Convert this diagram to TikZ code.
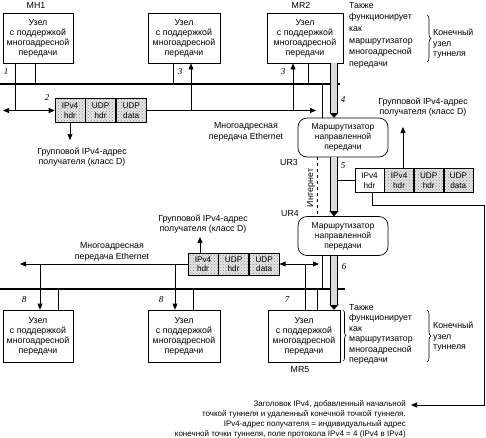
\documentclass[tikz,border=0pt]{standalone}
\usepackage{fontspec}
\setmainfont{Liberation Sans}
\newfontfamily\numfont{Liberation Serif}
\usetikzlibrary{arrows.meta,patterns,positioning,decorations.pathreplacing}

\tikzset{
	host/.style={draw, line width=0.7pt, minimum width=70pt, minimum height=50pt, inner sep=1pt, align=center, font=\fontsize{8.8}{10}\selectfont},
	router/.style={draw, line width=0.7pt, rounded corners=9pt, minimum width=90pt, minimum height=39pt, inner sep=1pt, align=center, font=\fontsize{8.5}{10}\selectfont},
	cell/.style={draw, line width=0.6pt, minimum width=30pt, minimum height=24pt, inner sep=0pt, align=center, font=\fontsize{8.2}{9.5}\selectfont},
	dotcell/.style={cell, preaction={fill=gray!20}, pattern=crosshatch dots, pattern color=gray!90},
	lbl/.style={inner sep=0pt, align=center, font=\fontsize{8.8}{10.5}\selectfont},
	num/.style={inner sep=0pt, font=\numfont\itshape\fontsize{9}{9}\selectfont},
	wire/.style={line width=0.7pt},
	bus/.style={line width=1.8pt},
	tip/.style={wire, -{Triangle[width=5pt,length=6pt]}},
	pipe/.style={line width=8pt, -{Triangle[width=9pt,length=5pt,line width=0.1pt]}, postaction={draw, -, line width=5.6pt, gray!30, shorten >=5pt}},
	curly/.style={decorate, decoration={brace, amplitude=4pt}, line width=0.6pt},
}

\begin{document}
\begin{tikzpicture}[x=1pt, y=-1pt]
	\useasboundingbox (0,0) rectangle (486,437);
	% upper Ethernet segment
	\node (mh1) [host] at (38,38) {Узел\\с поддержкой\\многоадресной\\передачи};
	\node (mh2) [host, minimum width=72pt] at (184,38) {Узел\\с поддержкой\\многоадресной\\передачи};
	\node (mr2) [host, minimum width=76pt] at (305,38) {Узел\\с поддержкой\\многоадресной\\передачи};
	\node (mh1name) [lbl] at (36,5) {MH1};
	\node (mr2name) [lbl] at (301,5) {MR2};
	\node (mr2note) [lbl, align=left, anchor=north west, font=\fontsize{8.8}{11.6}\selectfont] at (349,2) {Также\\функционирует\\как\\маршрутизатор\\многоадресной\\передачи};
	\draw [curly] (427,15) -- (427,62);
	\node (end1) [lbl, align=left, anchor=west] at (433,44) {Конечный\\узел\\туннеля};

	\coordinate (bus1w) at (0,84);
	\coordinate (bus1e) at (340,84);
	\draw [bus] (bus1w) -- (bus1e);
	\draw [wire] ([xshift=-3pt]mh1.south) -- ([xshift=-3pt]mh1.south |- bus1w);
	\draw [wire] ([xshift=-11pt]mh2.south) -- ([xshift=-11pt]mh2.south |- bus1w);
	\draw [wire] ([xshift=3pt]mr2.south) -- ([xshift=3pt]mr2.south |- bus1w);

	\node (pk1a) [dotcell] at (70,110.5) {IPv4\\hdr};
	\node (pk1b) [dotcell, right=0pt of pk1a] {UDP\\hdr};
	\node (pk1c) [dotcell, right=0pt of pk1b] {UDP\\data};
	\coordinate (j1) at (15,110.5);
	\coordinate (w1) at (3,110.5);
	\coordinate (e1) at (316,110.5);
	\draw [wire] (j1 |- mh1.south) -- (j1);
	\draw [tip] (j1) -- (w1);
	\draw [tip] (j1) -- (pk1a.west);
	\draw [tip] (pk1c.east) -- (e1);
	\draw [tip] ([xshift=7pt]mh2.south |- e1) -- ([xshift=7pt]mh2.south);
	\draw [tip] ([xshift=-12pt]mr2.south |- e1) -- ([xshift=-12pt]mr2.south);
	\coordinate (d1) at (70,140);
	\draw [tip] (pk1a.south) -- (d1);
	\node (grp1) [lbl] at (82,157) {Групповой IPv4-адрес\\получателя (класс D)};
	\node (eth1) [lbl] at (246,132) {Многоадресная\\передача Ethernet};
	\node (n1) [num] at (6,72) {1};
	\node (n2) [num] at (47,98) {2};
	\node (n3a) [num] at (180,72) {3};
	\node (n3b) [num] at (283,72) {3};
	\node (n4) [num] at (343,100) {4};

	% tunnel through the Internet
	\node (ur3) [router] at (343,137.5) {Маршрутизатор\\направленной\\передачи};
	\node (ur4) [router] at (343,236) {Маршрутизатор\\направленной\\передачи};
	\node (ur3name) [lbl] at (289,162) {UR3};
	\node (ur4name) [lbl] at (290,214) {UR4};
	\draw [wire] ([xshift=-21pt]ur3.north |- bus1w) -- ([xshift=-21pt]ur3.north);
	\draw [pipe] ([xshift=29pt]mr2.south) -- ([xshift=29pt]mr2.south |- ur3.north);
	\draw [pipe] ([xshift=-9pt]ur3.south) -- ([xshift=-9pt]ur4.north);
	\draw [wire, dashed] ([xshift=-26pt]ur3.south) -- ([xshift=-26pt]ur4.north);
	\node (inet) [lbl, rotate=90] at (311,188) {Интернет};
	\node (n5) [num] at (343,166) {5};

	\node (pk3a) [cell, minimum width=29pt] at (369.5,180.5) {IPv4\\hdr};
	\node (pk3b) [dotcell, minimum width=29pt, right=0pt of pk3a] {IPv4\\hdr};
	\node (pk3c) [dotcell, minimum width=29pt, right=0pt of pk3b] {UDP\\hdr};
	\node (pk3d) [dotcell, minimum width=29pt, right=0pt of pk3c] {UDP\\data};
	\draw [wire] ([xshift=-5pt]ur3.south |- pk3a.west) -- (pk3a.west);
	\coordinate (u3) at (403,127);
	\draw [tip] (pk3b.north -| u3) -- (u3);
	\node (grp3) [lbl] at (423,107) {Групповой IPv4-адрес\\получателя (класс D)};
	\coordinate (k1) at (372,205);
	\coordinate (k2) at (484,205);
	\coordinate (k3) at (484,405);
	\coordinate (k4) at (411,405);
	\draw [tip] (pk3a.south -| k1) -- (k1) -- (k2) -- (k3) -- (k4);
	\node (hdrnote) [lbl, align=right, anchor=east, font=\fontsize{8}{10}\selectfont] at (406,419) {Заголовок IPv4, добавленный начальной\\точкой туннеля и удаленный конечной точкой туннеля.\\IPv4-адрес получателя = индивидуальный адрес\\конечной точки туннеля, поле протокола IPv4 = 4 (IPv4 в IPv4)};

	% lower Ethernet segment
	\node (h8a) [host, minimum height=52pt] at (38,336) {Узел\\с поддержкой\\многоадресной\\передачи};
	\node (h8b) [host, minimum width=72pt, minimum height=52pt] at (184,336) {Узел\\с поддержкой\\многоадресной\\передачи};
	\node (mr5) [host, minimum width=72pt, minimum height=52pt] at (304,336) {Узел\\с поддержкой\\многоадресной\\передачи};
	\node (mr5name) [lbl] at (300,370) {MR5};
	\node (mr5note) [lbl, align=left, anchor=north west, font=\fontsize{8.8}{10.5}\selectfont] at (349,304) {Также\\функционирует\\как\\маршрутизатор\\многоадресной\\передачи};
	\draw [curly, decoration={brace, amplitude=3pt}] (343,310) -- (343,361);
	\draw [curly] (427,310) -- (427,362);
	\node (end2) [lbl, align=left, anchor=west] at (433,337) {Конечный\\узел\\туннеля};

	\coordinate (bus2w) at (0,289);
	\coordinate (bus2e) at (345,289);
	\draw [bus] (bus2w) -- (bus2e);
	\draw [wire] ([xshift=-21pt]ur4.south) -- ([xshift=-21pt]ur4.south |- bus2w);
	\draw [pipe] ([xshift=-9pt]ur4.south) -- ([xshift=-9pt]ur4.south |- mr5.north);
	\draw [wire] ([xshift=13pt]mr5.north |- bus2w) -- ([xshift=13pt]mr5.north);
	\draw [wire] ([xshift=20pt]h8a.north |- bus2w) -- ([xshift=20pt]h8a.north);
	\draw [wire] ([xshift=9pt]h8b.north |- bus2w) -- ([xshift=9pt]h8b.north);

	\node (pk2a) [dotcell, minimum height=22pt] at (203,264) {IPv4\\hdr};
	\node (pk2b) [dotcell, minimum height=22pt, right=0pt of pk2a] {UDP\\hdr};
	\node (pk2c) [dotcell, minimum height=22pt, right=0pt of pk2b] {UDP\\data};
	\coordinate (j7) at (305,264);
	\coordinate (e7) at (319,264);
	\coordinate (w2) at (20,264);
	\draw [wire] ([xshift=1pt]mr5.north) -- (j7);
	\draw [tip] (j7) -- (pk2c.east);
	\draw [tip] (j7) -- (e7);
	\draw [tip] (pk2a.west) -- (w2);
	\draw [tip] ([xshift=2pt]h8a.north |- w2) -- ([xshift=2pt]h8a.north);
	\draw [tip] ([xshift=-9pt]h8b.north |- w2) -- ([xshift=-9pt]h8b.north);
	\coordinate (u2) at (200,237);
	\draw [tip] (pk2a.north -| u2) -- (u2);
	\node (grp2) [lbl] at (203,224) {Групповой IPv4-адрес\\получателя (класс D)};
	\node (eth2) [lbl] at (112,252) {Многоадресная\\передача Ethernet};
	\node (n6) [num] at (344,267) {6};
	\node (n7) [num] at (287,300) {7};
	\node (n8a) [num] at (24,300) {8};
	\node (n8b) [num] at (161,300) {8};
\end{tikzpicture}
\end{document}
